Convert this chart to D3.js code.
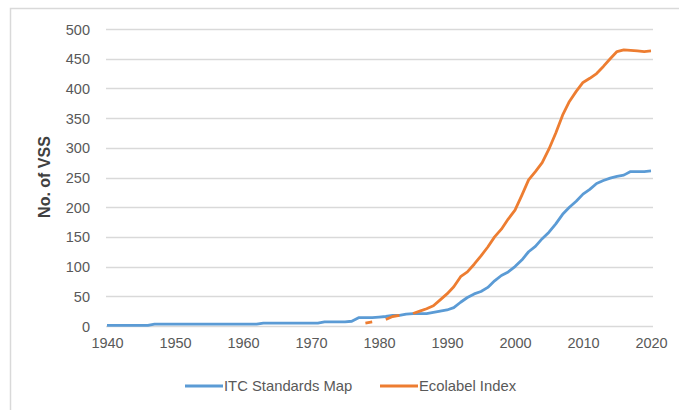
<!DOCTYPE html>
<html><head><meta charset="utf-8">
<script src="https://cdn.jsdelivr.net/npm/d3@7"></script>
<style>body{margin:0;background:#fff}svg{display:block}</style>
</head><body>
<script>
const years = d3.range(1940, 2021);
const itcValues = [1,1,1,1,1,1,1,3,3,3, 3,3,3,3,3,3,3,3,3,3, 3,3,3,5,5,5,5,5,5,5, 5,5,7,7,7,7,8,14,14,14, 15,16,18,18,20,21,21,21,23,25, 27,31,40,48,54,58,65,76,85,91, 100,111,125,134,147,158,172,188,200,210, 222,230,240,245,249,252,254,260,260,260, 261];
const ecoYears = d3.range(1978, 2021);
const ecoValues = [5,7,null,11,16,18,null,21,25,29,34,44, 54,66,83,91,104,118,133,150,163,180, 195,220,246,260,275,298,325,355,378,395, 410,417,425,437,450,462,465,464,463,462, 463];
const yTicks = [0,50,100,150,200,250,300,350,400,450,500];
const xTicks = [1940,1950,1960,1970,1980,1990,2000,2010,2020];
const seriesNames = ["ITC Standards Map", "Ecolabel Index"];
const colors = ["#5b9bd5", "#ed7d31"];

const W = 679, H = 410;
const svg = d3.select("body").append("svg").attr("width", W).attr("height", H);
const font = "'Liberation Sans', Arial, sans-serif";

svg.append("rect").attr("x", 10.5).attr("y", 8.5).attr("width", 700).attr("height", 420)
  .attr("fill", "#fff").attr("stroke", "#d9d9d9").attr("stroke-width", 1.5);

const x = d3.scaleLinear().domain([1940, 2020]).range([107, 651]);
const y = d3.scaleLinear().domain([0, 500]).range([326, 29]);

// gridlines
svg.append("g").selectAll("line").data(yTicks).join("line")
  .attr("x1", 106).attr("x2", 653)
  .attr("y1", d => Math.round(y(d)) + 0.5).attr("y2", d => Math.round(y(d)) + 0.5)
  .attr("stroke", "#d9d9d9").attr("stroke-width", 1.3);

// y axis labels
const yAxis = d3.axisLeft(y).tickValues(yTicks).tickSize(0).tickPadding(0);
const gy = svg.append("g").attr("transform", "translate(90,0)").call(yAxis);
gy.select(".domain").remove();
gy.selectAll("text").attr("font-family", font).attr("font-size", 14.5).attr("fill", "#595959").attr("dy", "0.35em");

// x axis labels
const xAxis = d3.axisBottom(x).tickValues(xTicks).tickFormat(d3.format("d")).tickSize(0).tickPadding(0);
const gx = svg.append("g").attr("transform", "translate(0,343)").call(xAxis);
gx.select(".domain").remove();
gx.selectAll("text").attr("font-family", font).attr("font-size", 14.5).attr("fill", "#595959").attr("dy", "0.35em");

// y title
svg.append("text").attr("transform", "translate(50,177) rotate(-90)")
  .attr("text-anchor", "middle").attr("font-family", font).attr("font-weight", "bold")
  .attr("font-size", 16).attr("fill", "#404040").text("No. of VSS");

const line = d3.line().defined(d => d[1] != null).x(d => x(d[0])).y(d => y(d[1]));
svg.append("path").datum(years.map((yr, i) => [yr, itcValues[i]]))
  .attr("d", line).attr("fill", "none").attr("stroke", colors[0]).attr("stroke-width", 2.8)
  .attr("stroke-linejoin", "round");
svg.append("path").datum(ecoYears.map((yr, i) => [yr, ecoValues[i]]))
  .attr("d", line).attr("fill", "none").attr("stroke", colors[1]).attr("stroke-width", 2.8)
  .attr("stroke-linejoin", "round");

// legend
const legX = [185, 380];
seriesNames.forEach((n, i) => {
  svg.append("line").attr("x1", legX[i]).attr("x2", legX[i] + 38).attr("y1", 386).attr("y2", 386)
    .attr("stroke", colors[i]).attr("stroke-width", 2.8);
  svg.append("text").attr("x", legX[i] + 39).attr("y", 386).attr("dy", "0.35em")
    .attr("font-family", font).attr("font-size", 14.8).attr("fill", "#595959").text(n);
});
</script>
</body></html>
